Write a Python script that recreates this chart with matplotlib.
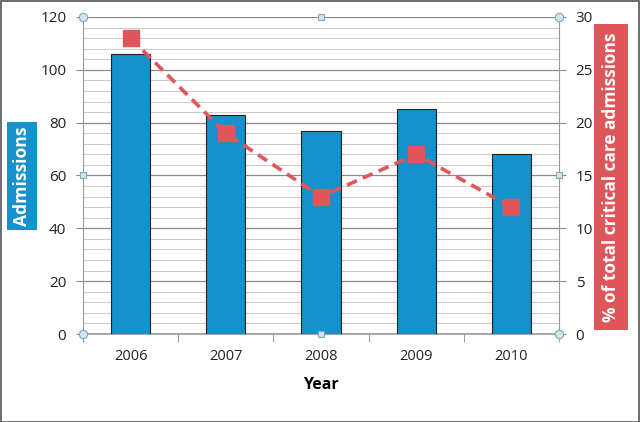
import matplotlib.pyplot as plt
import numpy as np
from matplotlib.patches import Rectangle

# Данные
years = ['2006', '2007', '2008', '2009', '2010']
admissions = [106, 83, 77, 85, 68]
percent_critical = [28, 19, 13, 17, 12]

bar_color = '#1591CB'
line_color = '#E0555A'
plt.rcParams['font.family'] = ['Open Sans', 'DejaVu Sans']

W, H = 640, 422
fig = plt.figure(figsize=(6.4, 4.22), dpi=100)
ax = fig.add_axes([83 / W, 1 - 334 / H, (559 - 83) / W, (334 - 17) / H])
x = np.arange(len(years))

ax.bar(x, admissions, width=0.41, color=bar_color, edgecolor='#222222', linewidth=0.8, zorder=3)
ax.set_xlim(-0.5, len(years) - 0.5)
ax.set_ylim(0, 120)
ax.set_yticks(range(0, 121, 20))
ax.set_yticks(range(0, 121, 4), minor=True)
ax.grid(axis='y', which='major', color='#8a8a8a', linewidth=0.9, zorder=0)
ax.grid(axis='y', which='minor', color='#cccccc', linewidth=0.8, zorder=0)
ax.tick_params(axis='y', which='minor', length=0)
ax.tick_params(axis='y', which='major', length=5, color='#888888', labelsize=11,
               labelcolor='#222222', pad=7)
ax.set_xticks(x)
ax.set_xticklabels(years)
ax.set_xticks(np.arange(-0.5, len(years)), minor=True)
ax.tick_params(axis='x', which='major', length=0, labelsize=10.5, pad=11, labelcolor='#222222')
ax.tick_params(axis='x', which='minor', length=6, color='#888888')
for s in ['top', 'right']:
    ax.spines[s].set_visible(False)
ax.spines['left'].set_color('#999999')
ax.spines['bottom'].set_color('#999999')
ax.spines['bottom'].set_linewidth(1.2)
ax.set_xlabel('Year', fontsize=11.5, fontweight='bold', labelpad=9)

ax2 = ax.twinx()
ax2.plot(x, percent_critical, color=line_color, linestyle=(0, (3, 1.8)), linewidth=2.6,
         marker='s', markersize=11, markerfacecolor=line_color, markeredgecolor=line_color, zorder=5)
ax2.set_ylim(0, 30)
ax2.set_yticks(range(0, 31, 5))
ax2.tick_params(axis='y', length=5, color='#888888', labelsize=11, labelcolor='#222222', pad=7)
for s in ['top', 'left', 'bottom']:
    ax2.spines[s].set_visible(False)
ax2.spines['right'].set_color('#999999')

# Подписи осей в цветных плашках
fig.patches.append(Rectangle((7 / W, 1 - 230 / H), 30 / W, 108 / H, transform=fig.transFigure,
                             facecolor=bar_color, edgecolor='none'))
fig.text(22.5 / W, 1 - 176 / H, 'Admissions', rotation=90, ha='center', va='center',
         color='white', fontsize=12.6, fontweight='bold')
fig.patches.append(Rectangle((594 / W, 1 - 330 / H), 34 / W, 306 / H, transform=fig.transFigure,
                             facecolor=line_color, edgecolor='none'))
fig.text(611.5 / W, 1 - 177 / H, '% of total critical care admissions', rotation=90,
         ha='center', va='center', color='white', fontsize=12.4, fontweight='bold')

# Маркеры выделения области графика
for hx, hy in [(0, 0), (1, 0), (0, 1), (1, 1)]:
    ax2.plot(hx, hy, 'o', transform=ax.transAxes, markersize=6, markerfacecolor='#cfe6ee',
             markeredgecolor='#7fa8b8', markeredgewidth=0.8, clip_on=False, zorder=10)
for hx, hy in [(0.5, 0), (0.5, 1), (0, 0.5), (1, 0.5)]:
    ax2.plot(hx, hy, 's', transform=ax.transAxes, markersize=5, markerfacecolor='#cfe6ee',
             markeredgecolor='#7fa8b8', markeredgewidth=0.8, clip_on=False, zorder=10)

fig.patches.append(Rectangle((0.001, 0.001), 0.997, 0.997, transform=fig.transFigure,
                             fill=False, edgecolor='#555555', linewidth=1.2))

fig.savefig('out.png', dpi=100)
